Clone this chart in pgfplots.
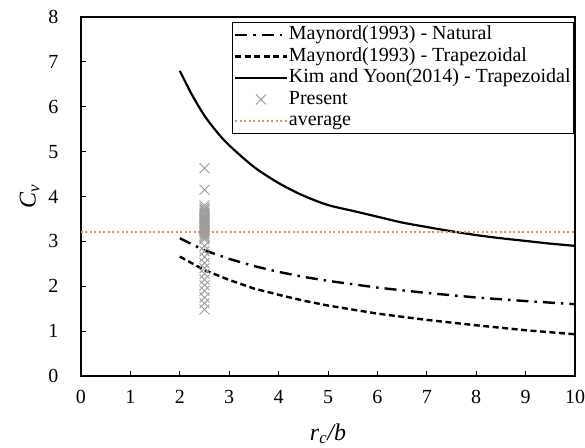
\documentclass[border=0pt]{standalone}
\usepackage{fontspec}
\setmainfont{Liberation Serif}
\usepackage{pgfplots}
\pgfplotsset{compat=1.18}
\definecolor{avgor}{RGB}{236,140,80}
\definecolor{crossgray}{RGB}{155,155,155}
\begin{document}
\begin{tikzpicture}
\begin{axis}[
  scale only axis,
  width=494pt, height=359pt,
  xmin=0, xmax=10, ymin=0, ymax=8,
  xtick={0,1,...,10}, ytick={0,1,...,8},
  tick align=inside, xtick pos=bottom, ytick pos=left,
  major tick length=5pt,
  axis line style={line width=1.1pt},
  tick style={line width=0.8pt, black},
  /pgf/number format/assume math mode=true,
  tick label style={font=\fontsize{20}{22}\selectfont},
  yticklabel style={xshift=-19pt},
  xticklabel style={yshift=-11pt},
  label style={font=\fontsize{24}{26}\selectfont},
  xlabel={\textit{r}\textsubscript{\textit{c}}\textit{/b}},
  ylabel={\textit{C}\textsubscript{\textit{v}}},
  xlabel style={at={(0.5,0)}, anchor=north, yshift=-44pt},
  ylabel style={at={(0,0.5)}, anchor=south, yshift=38pt},
  legend cell align=left,
  legend style={font=\fontsize{20}{21}\selectfont, at={(1,1)}, anchor=north east,
    xshift=-1pt, yshift=-5pt, draw=black, line width=1.5pt, inner sep=1.5pt,
    row sep=0pt, nodes={inner sep=1.2pt, text height=14.5pt, text depth=4.6pt}},
  legend image code/.code={\draw[mark repeat=2,mark phase=2,#1] plot coordinates {(0cm,0cm) (0.9cm,0cm) (1.8cm,0cm)};},
]
\addplot[black, line width=2.4pt, dash pattern=on 12pt off 6pt on 2.5pt off 6pt] coordinates {
(2,3.07)(2.5,2.80)(3,2.61)(3.5,2.45)(4,2.32)(4.5,2.21)(5,2.12)(6,1.97)(7,1.85)(8,1.75)(9,1.67)(10,1.60)};
\addlegendentry{Maynord(1993) - Natural}
\addplot[black, line width=2.4pt, dash pattern=on 6pt off 3.5pt] coordinates {
(2,2.66)(2.5,2.36)(3,2.14)(3.5,1.95)(4,1.81)(4.5,1.68)(5,1.57)(6,1.39)(7,1.25)(8,1.13)(9,1.02)(10,0.93)};
\addlegendentry{Maynord(1993) - Trapezoidal}
\addplot[black, line width=2.2pt, smooth] coordinates {
(2,6.80)(2.25,6.26)(2.5,5.80)(2.75,5.44)(3,5.14)(3.5,4.66)(4,4.30)(4.5,4.02)(5,3.81)(5.5,3.68)(6,3.55)(6.5,3.42)(7,3.32)(7.5,3.225)(8,3.14)(8.5,3.07)(9,3.01)(9.5,2.95)(10,2.90)};
\addlegendentry{Kim and Yoon(2014) - Trapezoidal}
\addplot[only marks, mark=x, mark size=7pt, crossgray, mark options={line width=0.9pt}] coordinates {
(2.5,4.63)(2.5,4.15)(2.5,3.80)(2.5,3.75)(2.5,3.71)(2.5,3.68)(2.5,3.64)(2.5,3.60)(2.5,3.56)(2.5,3.53)(2.5,3.50)(2.5,3.47)(2.5,3.44)(2.5,3.41)(2.5,3.38)(2.5,3.35)(2.5,3.32)(2.5,3.29)(2.5,3.26)(2.5,3.23)(2.5,3.20)(2.5,3.16)(2.5,3.12)(2.5,3.08)(2.5,3.04)(2.5,2.90)(2.5,2.78)(2.5,2.65)(2.5,2.52)(2.5,2.40)(2.5,2.28)(2.5,2.15)(2.5,2.02)(2.5,1.90)(2.5,1.75)(2.5,1.62)(2.5,1.48)};
\addlegendentry{Present}
\addplot[avgor, line width=2pt, dash pattern=on 2pt off 2.5pt] coordinates {(0,3.22)(10,3.22)};
\addlegendentry{average}
\end{axis}
\pgfresetboundingbox
\path (current axis.south west) ++(-81pt,-71pt) coordinate (bbA);
\path (current axis.north east) ++(10pt,17pt) coordinate (bbB);
\path[use as bounding box] (bbA) rectangle (bbB);
\end{tikzpicture}
\end{document}
